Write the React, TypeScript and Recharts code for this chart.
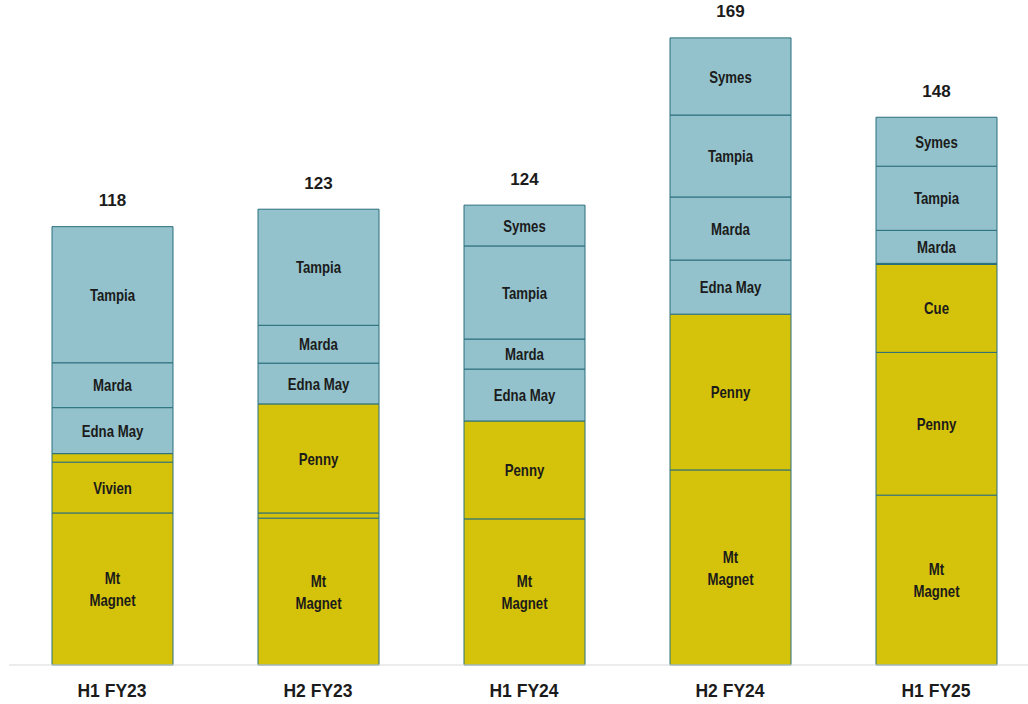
import React from "react";
import { Bar, BarChart, LabelList, XAxis, YAxis } from "recharts";

const categories = ["H1 FY23", "H2 FY23", "H1 FY24", "H2 FY24", "H1 FY25"];
const totals = [118, 123, 124, 169, 148];

// stacked segments, bottom to top
const mtMagnet = [41.0, 39.6, 39.4, 52.6, 45.8];
const vivien = [13.7, 1.4, 0, 0, 0];
const penny = [2.3, 29.4, 26.4, 42.0, 38.5];
const cue = [0, 0, 0, 0, 23.7];
const ednaMay = [12.4, 11.0, 14.0, 14.6, 0.3];
const marda = [12.1, 10.2, 8.1, 17.0, 8.9];
const tampia = [36.7, 31.3, 25.1, 22.1, 17.3];
const symes = [0, 0, 11.0, 20.8, 13.2];

const YELLOW = "#D5C20A";
const BLUE = "#93C2CC";
const EDGE = "#2A6F7C";
const TEXT = "#1b1b1b";
const SANS = "'Liberation Sans', Arial, sans-serif";

const series = [
  { key: "mtMagnet", name: "Mt Magnet", values: mtMagnet, color: YELLOW },
  { key: "vivien", name: "Vivien", values: vivien, color: YELLOW },
  { key: "penny", name: "Penny", values: penny, color: YELLOW },
  { key: "cue", name: "Cue", values: cue, color: YELLOW },
  { key: "ednaMay", name: "Edna May", values: ednaMay, color: BLUE },
  { key: "marda", name: "Marda", values: marda, color: BLUE },
  { key: "tampia", name: "Tampia", values: tampia, color: BLUE },
  { key: "symes", name: "Symes", values: symes, color: BLUE },
];

const data = categories.map((cat, i) => {
  const row: Record<string, any> = { cat };
  series.forEach((s) => (row[s.key] = s.values[i]));
  // total sits on the highest non-empty segment
  row.totalOnTampia = symes[i] > 0 ? null : totals[i];
  row.totalOnSymes = symes[i] > 0 ? totals[i] : null;
  return row;
});

function segmentLabel(name: string) {
  return (props: any) => {
    const { x, y, width, height } = props;
    if (!height || height < 16) return null;
    const cx = x + width / 2;
    const cy = y + height / 2;
    const style = { fontFamily: SANS, fontWeight: 700, fontSize: 16.5, fill: TEXT };
    // squeeze horizontally to mimic a narrow face
    const tr = `translate(${cx},${cy}) scale(0.8,1)`;
    if (name === "Mt Magnet") {
      return (
        <g transform={tr}>
          <text x={0} y={-11} textAnchor="middle" dominantBaseline="central" {...style}>Mt</text>
          <text x={0} y={11} textAnchor="middle" dominantBaseline="central" {...style}>Magnet</text>
        </g>
      );
    }
    return (
      <g transform={tr}>
        <text x={0} y={0} textAnchor="middle" dominantBaseline="central" {...style}>
          {name}
        </text>
      </g>
    );
  };
}

function totalLabel(props: any) {
  const { x, y, width, value } = props;
  if (value == null) return null;
  return (
    <text x={x + width / 2} y={y - 26} textAnchor="middle" dominantBaseline="central"
      fontFamily={SANS} fontWeight={700} fontSize={17} fill={TEXT}>
      {value}
    </text>
  );
}

export default function App() {
  return (
    <div style={{ position: "absolute", left: 0, top: 0, width: 1028, height: 704, overflow: "hidden", background: "#fff" }}>
      <BarChart width={1040} height={704} data={data} margin={{ top: 16, right: 1, bottom: 0, left: 9 }} barSize={121}>
        <XAxis dataKey="cat" axisLine={{ stroke: "#d9d9d9" }} tickLine={false} height={39}
          tick={{ fontFamily: SANS, fontWeight: 700, fontSize: 17.5, fill: TEXT }} dy={12} />
        <YAxis hide domain={[0, 175]} />
        {series.map((s) => (
          <Bar key={s.key} dataKey={s.key} stackId="a" fill={s.color} stroke={EDGE} strokeWidth={1}
            isAnimationActive={false}>
            <LabelList content={segmentLabel(s.name)} />
            {s.key === "tampia" && <LabelList dataKey="totalOnTampia" content={totalLabel} />}
            {s.key === "symes" && <LabelList dataKey="totalOnSymes" content={totalLabel} />}
          </Bar>
        ))}
      </BarChart>
    </div>
  );
}
